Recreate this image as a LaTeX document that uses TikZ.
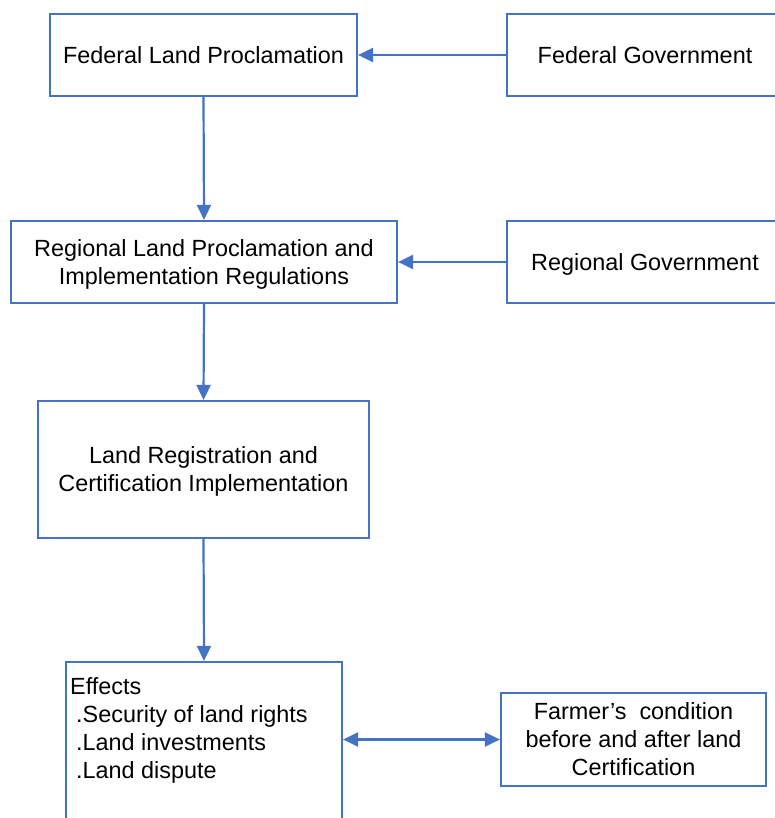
\documentclass[tikz,border=0pt]{standalone}
\usepackage{fontspec}
\setmainfont{Liberation Sans}
\usetikzlibrary{arrows.meta}
\definecolor{frameblue}{HTML}{4472C4}
\begin{document}
\begin{tikzpicture}[x=1pt,y=-1pt,
  box/.style={draw=frameblue, line width=2.2pt, fill=white, inner sep=0pt,
    align=center, text depth=0pt, font=\fontsize{23.4}{28}\selectfont},
  link/.style={draw=frameblue, line width=2.2pt,
    -{Triangle[length=15pt,width=14pt]}},
  twoway/.style={draw=frameblue, line width=2.2pt,
    {Triangle[length=15pt,width=14pt]}-{Triangle[length=15pt,width=14pt]}}]
\useasboundingbox (0,0) rectangle (775,818);
\clip (0,0) rectangle (775,818);
\fill[white] (0,0) rectangle (775,818);

% main column
\node[box, minimum width=307pt, minimum height=82pt] (fedproc) at (203.5,55)
  {Federal Land Proclamation};
\node[box, minimum width=386pt, minimum height=82pt] (regproc) at (204,262)
  {Regional Land Proclamation and\\Implementation Regulations};
\node[box, minimum width=331pt, minimum height=137pt] (lrc) at (203.5,469.5)
  {Land Registration and\\Certification Implementation};
\node[box, minimum width=276pt, minimum height=200pt] (effects) at (204,762) {};
\node[anchor=north west, inner sep=0pt, align=left,
  font=\fontsize{23.4}{28}\selectfont] (effectstext) at (70,677)
  {Effects\\\hspace{6pt}.Security of land rights\\\hspace{6pt}.Land investments\\\hspace{6pt}.Land dispute};

% governments on the right
\node[box, minimum width=276pt, minimum height=82pt] (fedgov) at (645,55)
  {Federal Government};
\node[box, minimum width=276pt, minimum height=82pt] (reggov) at (645,262)
  {Regional Government};
\node[box, minimum width=265pt, minimum height=93pt] (farmer) at (633.5,739.5)
  {Farmer’s~ condition\\before and after land\\Certification};

% connectors
\draw[link] (fedgov.west |- fedproc.east) -- (fedproc.east);
\draw[link] (reggov.west |- regproc.east) -- (regproc.east);
\draw[link] (fedproc.south) -- (regproc.north);
\draw[link] (regproc.south) -- (lrc.north);
\draw[link] (lrc.south) -- (effects.north);
\draw[twoway] (effects.east |- farmer.west) -- (farmer.west);
\end{tikzpicture}
\end{document}
